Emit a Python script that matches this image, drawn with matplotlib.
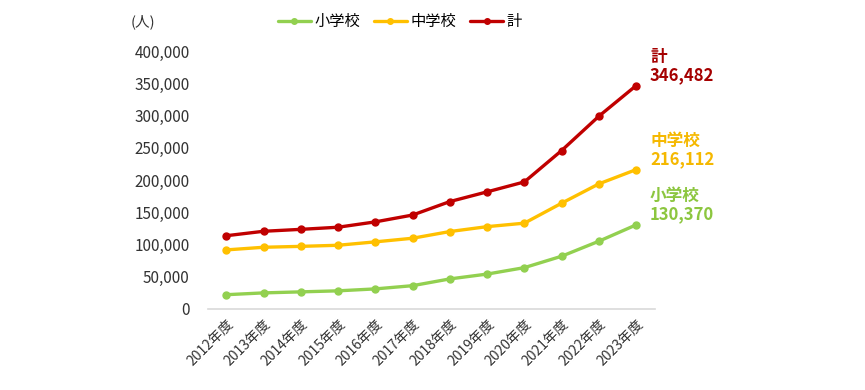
#!/usr/bin/env python3
"""Students by fiscal year: elementary, junior high, and total."""

import matplotlib

matplotlib.use("Agg")

import matplotlib.pyplot as plt
import numpy as np

plt.rcParams["font.family"] = ["Noto Sans CJK JP", "DejaVu Sans"]

YEARS = ["2012年度", "2013年度", "2014年度", "2015年度", "2016年度", "2017年度",
         "2018年度", "2019年度", "2020年度", "2021年度", "2022年度", "2023年度"]
ELEMENTARY = [22000, 24800, 26400, 28000, 31000, 36000, 46500, 54000, 64000, 81700, 105000, 130370]
JUNIOR_HIGH = [91500, 95600, 97000, 98700, 104000, 109600, 120000, 127600, 133000, 164000, 194000, 216112]
TOTAL = [113500, 120400, 123400, 126700, 135000, 145600, 166500, 181600, 197000, 245700, 299000, 346482]
SERIES_NAMES = ["小学校", "中学校", "計"]
COLORS = {"小学校": "#92D050", "中学校": "#FFC000", "計": "#C00000"}
LABEL_COLORS = {"小学校": "#8CC63F", "中学校": "#F5B800", "計": "#A50000"}
Y_TICKS = [0, 50000, 100000, 150000, 200000, 250000, 300000, 350000, 400000]


def main() -> None:
    fig = plt.figure(figsize=(8.65, 3.9), dpi=100)
    ax = fig.add_axes([0.240, 0.208, 0.517, 0.661])
    x = np.arange(len(YEARS))
    series = dict(zip(SERIES_NAMES, [ELEMENTARY, JUNIOR_HIGH, TOTAL]))

    for name in SERIES_NAMES:
        ax.plot(x, series[name], color=COLORS[name], lw=2.4, marker="o", ms=5,
                label=name, solid_capstyle="round")

    ax.set_xlim(-0.5, len(YEARS) - 0.5)
    ax.set_ylim(0, 400000)
    ax.set_yticks(Y_TICKS)
    ax.set_yticklabels([f"{v:,}" for v in Y_TICKS], fontsize=11, color="#333333")
    ax.set_xticks(x)
    ax.set_xticklabels(YEARS, rotation=45, ha="right", rotation_mode="anchor",
                       fontsize=10, color="#333333")
    ax.tick_params(length=0, pad=6)
    ax.tick_params(axis="y", pad=13)
    for side in ["top", "right", "left"]:
        ax.spines[side].set_visible(False)
    ax.spines["bottom"].set_color("#d9d9d9")
    ax.spines["bottom"].set_linewidth(1.2)

    # end-of-line labels, placed just above and right of the last point
    last = len(YEARS) - 1
    for name in ["計", "中学校", "小学校"]:
        val = series[name][last]
        ax.annotate(f"{name}\n{val:,}", xy=(last, val), xytext=(10, 14),
                    textcoords="offset points", ha="left", va="center",
                    fontsize=12, fontweight="bold", color=LABEL_COLORS[name],
                    linespacing=1.0, annotation_clip=False)

    fig.text(0.151, 0.944, "(人)", fontsize=10.5, color="#333333", ha="left", va="center")
    ax.legend(loc="center", bbox_to_anchor=(0.462, 0.944), bbox_transform=fig.transFigure,
              ncol=3, frameon=False, fontsize=11, handlelength=2.2, handletextpad=0.2,
              columnspacing=0.9, markerscale=0.8)

    fig.savefig("out.png", dpi=100)


if __name__ == "__main__":
    main()
